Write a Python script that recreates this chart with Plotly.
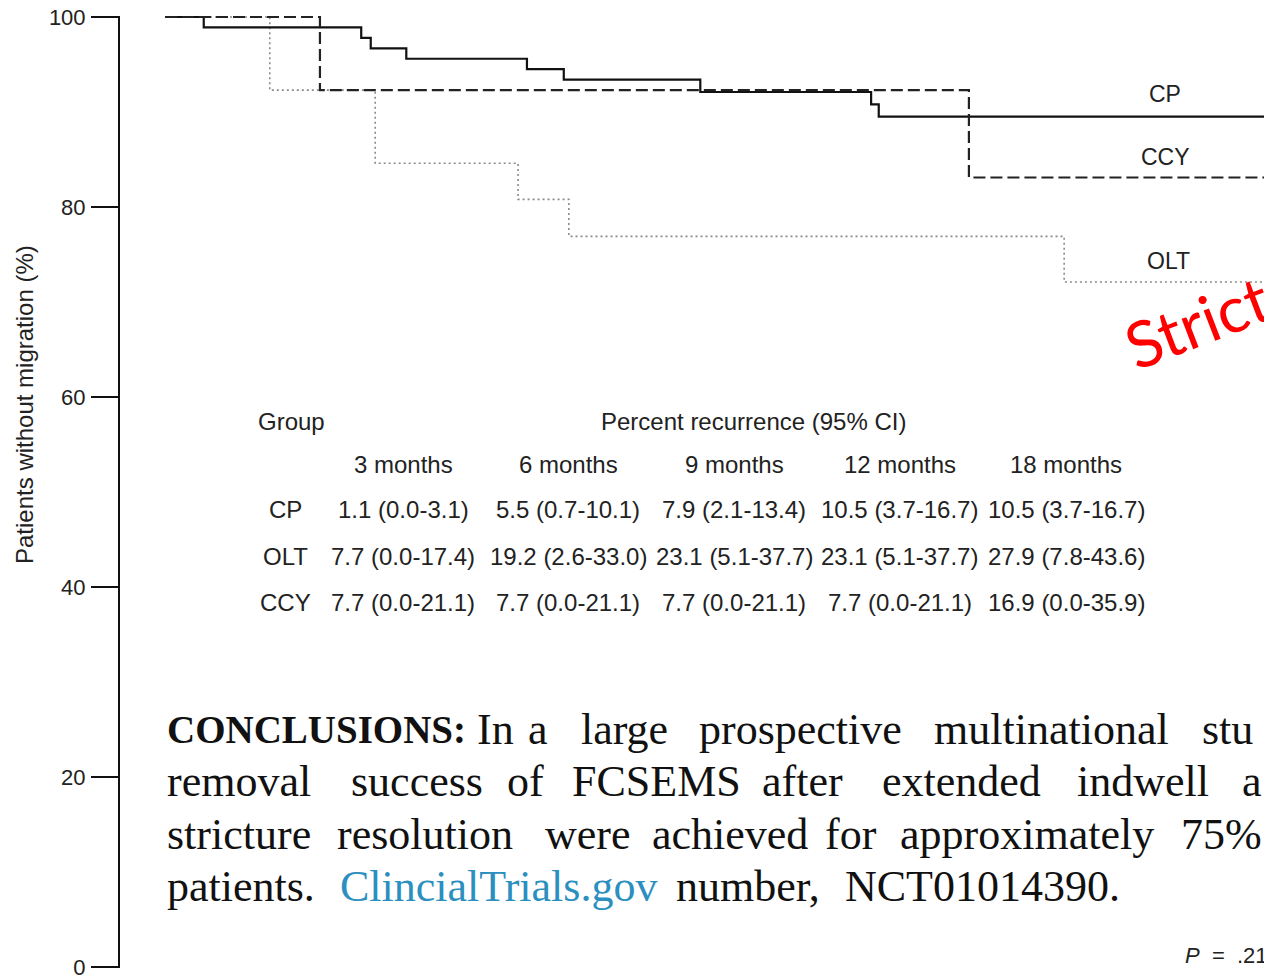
import plotly.graph_objects as go

# ---------------- data ----------------
# Kaplan-Meier step data (time in months, % without migration)
cp_time = [0, 0.61, 3.09, 3.24, 3.80, 5.70, 6.28, 8.43, 11.12, 11.24, 17.5]
cp_surv = [100, 98.9, 97.8, 96.7, 95.6, 94.5, 93.4, 92.1, 90.8, 89.5, 89.5]
olt_time = [0, 1.65, 3.31, 5.56, 6.36, 14.16, 17.5]
olt_surv = [100, 92.3, 84.6, 80.8, 76.9, 72.1, 72.1]
ccy_time = [0, 2.44, 12.66, 17.5]
ccy_surv = [100, 92.3, 83.1, 83.1]

y_ticks = [0, 20, 40, 60, 80, 100]

table_groups = ["CP", "OLT", "CCY"]
table_cols = ["3 months", "6 months", "9 months", "12 months", "18 months"]
table_cp = ["1.1 (0.0-3.1)", "5.5 (0.7-10.1)", "7.9 (2.1-13.4)", "10.5 (3.7-16.7)", "10.5 (3.7-16.7)"]
table_olt = ["7.7 (0.0-17.4)", "19.2 (2.6-33.0)", "23.1 (5.1-37.7)", "23.1 (5.1-37.7)", "27.9 (7.8-43.6)"]
table_ccy = ["7.7 (0.0-21.1)", "7.7 (0.0-21.1)", "7.7 (0.0-21.1)", "7.7 (0.0-21.1)", "16.9 (0.0-35.9)"]

concl_line1 = ["CONCLUSIONS:", "In", "a", "large", "prospective", "multinational", "stu"]
concl_line2 = ["removal", "success", "of", "FCSEMS", "after", "extended", "indwell", "a"]
concl_line3 = ["stricture", "resolution", "were", "achieved", "for", "approximately", "75%"]
concl_line4 = ["patients.", "ClincialTrials.gov", "number,", "NCT01014390."]

# ---------------- layout helpers (pixel -> paper) ----------------
W, H = 1264, 980
ML, MR, MT, MB = 120, 0, 16, 12
PW, PH = W - ML - MR, H - MT - MB


def px(p):
    return (p - ML) / PW


def py(p):
    return (H - MB - p) / PH


T0_PX, PX_PER_MONTH = 165.0, 63.5
x_range = [(ML - T0_PX) / PX_PER_MONTH, (W - MR - T0_PX) / PX_PER_MONTH]

fig = go.Figure()
fig.add_trace(go.Scatter(x=olt_time, y=olt_surv, mode="lines", line_shape="hv",
                         line=dict(color="#8a8a8a", width=1.6, dash="2px,3px"), name="OLT"))
fig.add_trace(go.Scatter(x=cp_time, y=cp_surv, mode="lines", line_shape="hv",
                         line=dict(color="#111111", width=2.2), name="CP"))
fig.add_trace(go.Scatter(x=ccy_time, y=ccy_surv, mode="lines", line_shape="hv",
                         line=dict(color="#222222", width=2.2, dash="12px,5px"), name="CCY"))

ann = []
sans = "Liberation Sans, Arial, sans-serif"
serif = "Liberation Serif, Times New Roman, serif"


def add_text(xp, yp, text, size, family=sans, color="#222", xanchor="center", yanchor="middle", angle=0):
    ann.append(dict(x=px(xp), y=py(yp), xref="paper", yref="paper", text=text, showarrow=False,
                    xanchor=xanchor, yanchor=yanchor, textangle=angle,
                    font=dict(family=family, size=size, color=color)))


# y axis title
add_text(24, 405, "Patients without migration (%)", 24, angle=-90)

# curve labels
for lbl, xx, yy in [("CP", 1165, 94), ("CCY", 1165, 157), ("OLT", 1168, 261)]:
    add_text(xx, yy, lbl, 23)

# table
TS = 24
add_text(256, 421, "Group", TS, xanchor="left")
add_text(753, 421, "Percent recurrence (95% CI)", TS)
col_x = [403, 568, 734, 900, 1066]
for cx, c in zip(col_x, table_cols):
    add_text(cx, 464, c, TS)
for g, row, ry in zip(table_groups, [table_cp, table_olt, table_ccy], [510, 556, 602]):
    add_text(285, ry, g, TS)
    for cx, v in zip(col_x, row):
        add_text(cx, ry, v, TS)

# conclusions text (justified paragraph, words placed individually)
# first word of each line left-aligned at 165, last word of lines 1-2 left-aligned (cut at edge),
# others centered on the word centre.
CS = 44
line_pos = [
    [("l", 165), ("c", 495), ("c", 538), ("c", 624), ("c", 800), ("c", 1051), ("l", 1200)],
    [("l", 165), ("c", 417), ("c", 525), ("c", 656), ("c", 802), ("c", 961), ("c", 1143), ("l", 1240)],
    [("l", 165), ("c", 425), ("c", 588), ("c", 730), ("c", 851), ("c", 1027), ("c", 1221)],
    [("l", 165), ("c", 498), ("c", 748), ("c", 982)],
]
line_y = [729, 781, 834, 886]
lines = [concl_line1, concl_line2, concl_line3, concl_line4]
for li, (words, pos, yy) in enumerate(zip(lines, line_pos, line_y)):
    for wi, (w, (anc, xx)) in enumerate(zip(words, pos)):
        xa = "left" if anc == "l" else "center"
        if li == 0 and wi == 0:
            add_text(xx, yy, "<b>" + w + "</b>", 39, family=serif, color="#111", xanchor=xa)
        elif li == 3 and wi == 1:
            add_text(xx, yy, w, CS, family=serif, color="#2b8fc0", xanchor=xa)
        else:
            add_text(xx, yy, w, CS, family=serif, color="#111", xanchor=xa)

# P value
add_text(1183, 955, "<i>P</i>  =  .21", 22, xanchor="left")

# red overlay text
add_text(1197, 322, "Strict", 64, family="Lato, Open Sans, sans-serif", color="#ff0000", angle=-21)

fig.update_layout(
    width=W, height=H, margin=dict(l=ML, r=MR, t=MT, b=MB),
    paper_bgcolor="white", plot_bgcolor="white", showlegend=False,
    xaxis=dict(range=x_range, visible=False, showgrid=False, zeroline=False),
    yaxis=dict(range=[-0.1, 100.1], tickvals=y_ticks, ticks="outside", ticklen=27, tickwidth=2,
               tickcolor="#111", showline=True, linewidth=2, linecolor="#111", showgrid=False,
               zeroline=False, ticklabelstandoff=1,
               tickfont=dict(family=sans, size=22, color="#222")),
    annotations=ann,
)

fig.write_html("out.html")
